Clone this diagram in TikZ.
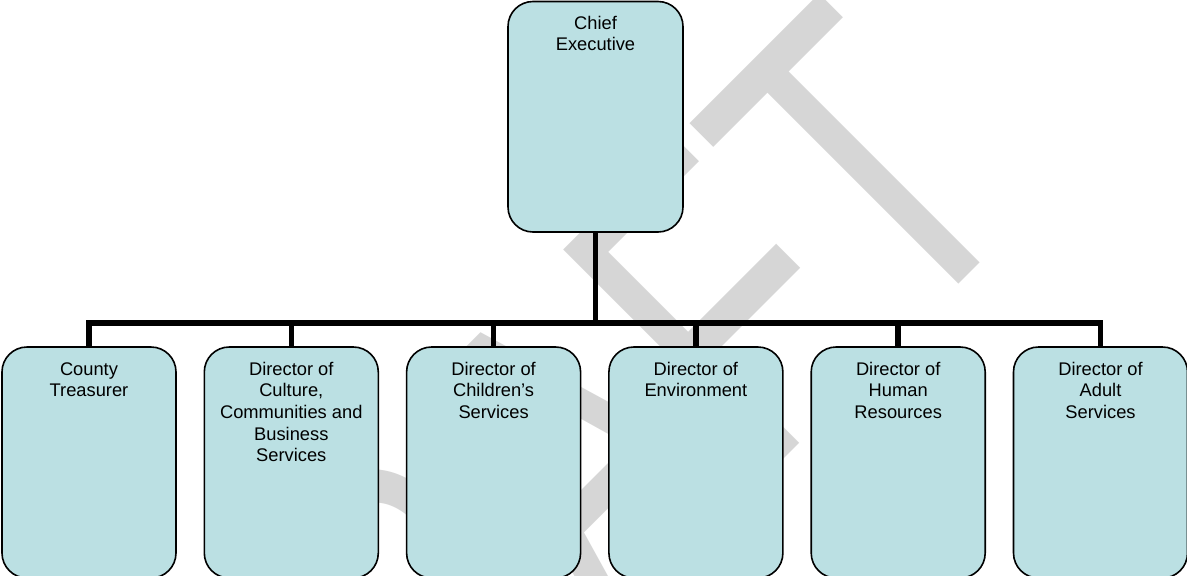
\documentclass[tikz,border=0pt]{standalone}
\usepackage{fontspec}
\setmainfont{Liberation Sans}
\newfontfamily\wmfont{Liberation Sans}
\usetikzlibrary{calc}
\definecolor{boxfill}{RGB}{187,224,227}
\definecolor{wmgray}{RGB}{214,214,214}
\begin{document}
\begin{tikzpicture}[x=1pt,y=-1pt,
  orgbox/.style={draw=black, line width=1.6pt, fill=boxfill, rounded corners=25pt,
    minimum width=174pt, minimum height=231pt, inner sep=0pt, outer sep=0pt, anchor=north west},
  lbl/.style={align=center, anchor=north, inner sep=0pt, text=black,
    font=\fontsize{18.3}{21.6}\selectfont},
  conn/.style={draw=black, line width=5.5pt, line join=miter},
  watermark/.style={rotate=45, xscale=0.735, anchor=base west, inner sep=0pt, outer sep=0pt,
    text=wmgray, font=\wmfont\fontsize{441.3}{441.3}\selectfont}]
\useasboundingbox (0,0) rectangle (1187,576);
\clip (0,0) rectangle (1187,576);
\fill[white] (0,0) rectangle (1187,576);
% watermark
\node[watermark] (wm) at (275.3,967.7) {DRAFT};
% boxes
\node[orgbox, minimum width=175pt, minimum height=230.5pt] (chief) at (508,1.5) {};
\node[orgbox] (b1) at (2,347) {};
\node[orgbox] (b2) at (204.3,347) {};
\node[orgbox] (b3) at (406.6,347) {};
\node[orgbox] (b4) at (608.9,347) {};
\node[orgbox] (b5) at (811.2,347) {};
\node[orgbox] (b6) at (1013.5,347) {};
% labels
\node[lbl] (tc) at ($(chief.north)+(0,13.5)$) {\rule{0pt}{14pt}Chief\\Executive};
\node[lbl] (t1) at ($(b1.north)+(0,14)$) {\rule{0pt}{14pt}County\\Treasurer};
\node[lbl] (t2) at ($(b2.north)+(0,14)$) {\rule{0pt}{14pt}Director of\\Culture,\\Communities and\\Business\\Services};
\node[lbl] (t3) at ($(b3.north)+(0,14)$) {\rule{0pt}{14pt}Director of\\Children’s\\Services};
\node[lbl] (t4) at ($(b4.north)+(0,14)$) {\rule{0pt}{14pt}Director of\\Environment};
\node[lbl] (t5) at ($(b5.north)+(0,14)$) {\rule{0pt}{14pt}Director of\\Human\\Resources};
\node[lbl] (t6) at ($(b6.north)+(0,14)$) {\rule{0pt}{14pt}Director of\\Adult\\Services};
% connectors
\coordinate (bus) at (0,323);
\draw[conn] (chief.south) -- (chief.south |- bus);
\draw[conn] (b1.north) -- (b1.north |- bus) -- (b6.north |- bus) -- (b6.north);
\draw[conn] (b2.north) -- (b2.north |- bus);
\draw[conn] (b3.north) -- (b3.north |- bus);
\draw[conn] (b4.north) -- (b4.north |- bus);
\draw[conn] (b5.north) -- (b5.north |- bus);
\end{tikzpicture}
\end{document}
